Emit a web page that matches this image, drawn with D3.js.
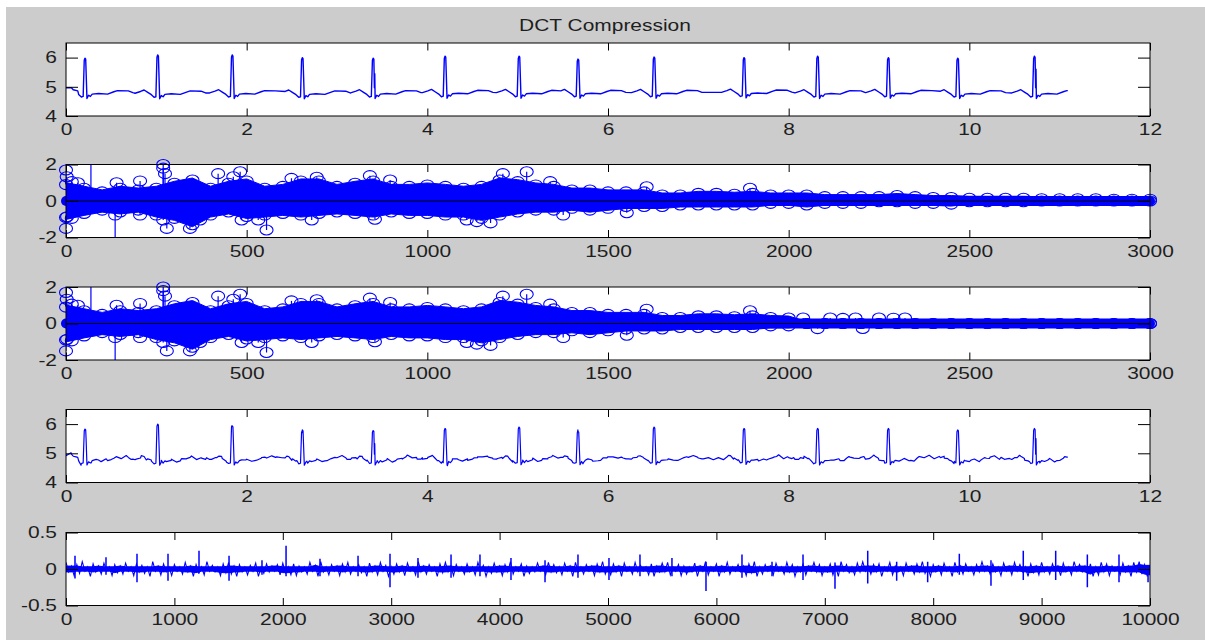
<!DOCTYPE html>
<html>
<head>
<meta charset="utf-8">
<script src="https://cdn.jsdelivr.net/npm/d3@7"></script>
<style>
  body { margin: 0; background: #ffffff; }
  svg { display: block; }
</style>
</head>
<body>
<svg id="fig" width="1205" height="640"></svg>
<script>
// ---------------- data ----------------
const titleText = "DCT Compression";

// tick labels
const timeTicks = [0, 2, 4, 6, 8, 10, 12];
const ecgTicks = [4, 5, 6];
const coefTicks = [0, 500, 1000, 1500, 2000, 2500, 3000];
const coefYTicks = [-2, 0, 2];
const sampleTicks = [0, 1000, 2000, 3000, 4000, 5000, 6000, 7000, 8000, 9000, 10000];
const errYTicks = [-0.5, 0, 0.5];

// ECG: R-peak times (s), R heights for original and reconstructed, local baseline
const beatTimes = [0.21, 1.015, 1.84, 2.616, 3.40, 4.196, 5.015, 5.668, 6.51, 7.506, 8.32, 9.103, 9.871, 10.72];
const origPeaks = [5.98, 6.09, 6.09, 6.0, 5.98, 6.05, 6.05, 5.95, 6.02, 6.0, 6.05, 6.0, 5.98, 6.05];
const recPeaks  = [5.83, 6.0, 5.94, 5.8, 5.78, 5.85, 5.9, 5.75, 5.9, 5.85, 5.85, 5.85, 5.8, 5.85];
const origNotch = [0, 0, 0, 0, 5.45, 0, 0, 0, 0, 0, 0, 0, 0, 5.6];
const recNotch  = [0, 0, 0, 0, 5.33, 0, 0, 0, 0, 0, 0, 0, 0, 5.5];
const beatBase  = [4.77, 4.76, 4.77, 4.76, 4.77, 4.78, 4.78, 4.78, 4.78, 4.79, 4.77, 4.78, 4.77, 4.77];
// one heartbeat: offset from R (s), level above baseline, share of the R amplitude
const waveDt   = [-0.25, -0.19, -0.15, -0.11, -0.07, -0.04, -0.02, -0.008, 0, 0.008, 0.022, 0.04, 0.06, 0.08, 0.15, 0.25, 0.32, 0.36, 0.48, 0.53];
const waveDv   = [0.02, 0.08, 0.13, 0.05, -0.03, -0.12, -0.1, 0, 0, 0, -0.17, -0.06, -0.1, -0.02, 0, -0.02, 0.06, 0.1, 0.09, 0.03];
const waveFrac = [0, 0, 0, 0, 0, 0, 0, 0.94, 1, 0.97, 0, 0, 0, 0, 0, 0, 0, 0, 0, 0];
const leadT = [0, 0.06, 0.08, 0.13];
const leadV = [4.97, 4.97, 4.9, 4.86];
const ecgEnd = 11.09, ecgEndV = 4.87;
const sampleRate = 900;

// DCT coefficients: envelope every 50 coefficients (0..3000)
const dctStep = 50;
const dctHi = [0.9, 0.7, 0.5, 0.7, 0.6, 0.7, 0.97, 1.15, 0.7, 0.97,
  1.1, 0.7, 0.8, 1.1, 1.1, 0.8, 0.97, 1.1, 0.8, 0.8,
  0.88, 0.8, 0.7, 0.8, 1.15, 1.06, 0.88, 0.8, 0.6, 0.6,
  0.5, 0.5, 0.5, 0.33, 0.33, 0.42, 0.42, 0.37, 0.42, 0.33,
  0.33, 0.33, 0.24, 0.24, 0.24, 0.24, 0.3, 0.24, 0.19, 0.19,
  0.15, 0.15, 0.15, 0.15, 0.12, 0.12, 0.12, 0.12, 0.1, 0.1, 0.1];
const dctLo = [-0.9, -0.68, -0.5, -0.6, -0.5, -0.77, -0.95, -1.3, -0.77, -0.6,
  -0.85, -0.77, -0.68, -0.77, -0.68, -0.6, -0.68, -0.77, -0.6, -0.68,
  -0.68, -0.77, -0.77, -0.95, -0.77, -0.6, -0.5, -0.5, -0.4, -0.5,
  -0.4, -0.3, -0.3, -0.3, -0.22, -0.22, -0.22, -0.22, -0.22, -0.13,
  -0.13, -0.22, -0.13, -0.13, -0.13, -0.04, -0.04, -0.13, -0.13, -0.17,
  -0.04, -0.04, -0.04, -0.04, 0, 0, 0, 0, 0, 0, 0];
// thresholded coefficients
const keptHi = [0.9, 0.7, 0.5, 0.7, 0.6, 0.7, 0.97, 1.15, 0.7, 0.97,
  1.1, 0.7, 0.8, 1.1, 1.1, 0.8, 0.97, 1.1, 0.8, 0.8,
  0.88, 0.8, 0.7, 0.8, 1.15, 1.06, 0.88, 0.8, 0.6, 0.6,
  0.5, 0.5, 0.5, 0.33, 0.33, 0.42, 0.42, 0.37, 0.42, 0.33,
  0.3, 0, 0, 0, 0, 0, 0, 0, 0, 0,
  0, 0, 0, 0, 0, 0, 0, 0, 0, 0, 0];
const keptLo = [-0.9, -0.68, -0.5, -0.6, -0.5, -0.77, -0.95, -1.3, -0.77, -0.6,
  -0.85, -0.77, -0.68, -0.77, -0.68, -0.6, -0.68, -0.77, -0.6, -0.68,
  -0.68, -0.77, -0.77, -0.95, -0.77, -0.6, -0.5, -0.5, -0.4, -0.5,
  -0.4, -0.3, -0.3, -0.3, -0.22, -0.22, -0.22, -0.22, -0.22, -0.13,
  -0.13, 0, 0, 0, 0, 0, 0, 0, 0, 0,
  0, 0, 0, 0, 0, 0, 0, 0, 0, 0, 0];
// individual large coefficients [index, value]
const dctPeaks = [[0, 1.7], [2, 1.33], [16, 1.06], [33, 1.0], [69, 2.6], [140, 1.0], [205, 1.1],
  [269, 2.0], [269, 1.8], [274, 1.5], [421, 1.5], [463, 1.33], [482, 1.6], [624, 1.24],
  [694, 1.3], [841, 1.39], [897, 1.15], [1209, 1.5], [1275, 1.6], [1340, 1.06],
  [1607, 0.78], [1893, 0.7],
  [0, -1.5], [3, -0.86], [16, -0.95], [136, -2.4], [136, -0.77], [205, -0.77], [269, -1.04],
  [279, -1.5], [343, -1.5], [371, -1.04], [486, -1.04], [532, -1.04], [555, -1.59],
  [680, -1.04], [855, -1.0], [1109, -1.04], [1137, -1.13], [1175, -1.2], [1376, -0.77], [1552, -0.64]];
const keptSparse = [[2040, 0.3], [2080, -0.28], [2115, 0.3], [2150, 0.28], [2185, 0.3],
  [2205, -0.27], [2250, 0.3], [2290, 0.29], [2322, 0.3]];

// reconstruction error: max and min in each block of 50 samples (0..10000)
const errStep = 50;
const errHi = [0.09,0.04,0.06,0.1,0.03,0.07,0.04,0.08,0.03,0.06,
  0.04,0.08,0.03,0.07,0.05,0.03,0.1,0.04,0.07,0.03,
  0.06,0.03,0.09,0.04,0.06,0.03,0.1,0.05,0.03,0.07,
  0.09,0.04,0.06,0.03,0.05,0.08,0.03,0.07,0.04,0.06,
  0.08,0.03,0.07,0.04,0.03,0.09,0.05,0.1,0.03,0.06,
  0.04,0.07,0.09,0.03,0.06,0.03,0.08,0.04,0.09,0.05,
  0.03,0.07,0.04,0.08,0.03,0.1,0.04,0.06,0.03,0.07,
  0.09,0.04,0.06,0.03,0.07,0.03,0.09,0.05,0.03,0.08,
  0.04,0.06,0.1,0.03,0.07,0.04,0.03,0.08,0.04,0.09,
  0.06,0.03,0.08,0.04,0.09,0.03,0.06,0.04,0.07,0.1,
  0.03,0.07,0.04,0.08,0.03,0.09,0.05,0.03,0.07,0.04,
  0.08,0.09,0.03,0.06,0.04,0.03,0.08,0.04,0.1,0.03,
  0.07,0.04,0.09,0.03,0.06,0.04,0.07,0.1,0.03,0.06,
  0.04,0.08,0.03,0.09,0.06,0.03,0.07,0.04,0.09,0.06,
  0.03,0.07,0.04,0.1,0.06,0.03,0.08,0.1,0.04,0.06,
  0.07,0.03,0.09,0.04,0.03,0.08,0.04,0.07,0.1,0.03,
  0.06,0.04,0.08,0.03,0.09,0.04,0.07,0.03,0.06,0.1,
  0.04,0.07,0.03,0.08,0.04,0.09,0.06,0.03,0.07,0.04,
  0.09,0.03,0.07,0.04,0.08,0.03,0.1,0.06,0.04,0.07,
  0.03,0.09,0.07,0.04,0.03,0.08,0.04,0.09,0.1,0.06,
  0.05];
const errLo = [-0.04,-0.09,-0.06,-0.03,-0.1,-0.04,-0.07,-0.03,-0.09,-0.05,
  -0.07,-0.03,-0.09,-0.04,-0.06,-0.1,-0.03,-0.08,-0.04,-0.09,
  -0.03,-0.07,-0.04,-0.1,-0.05,-0.08,-0.03,-0.04,-0.09,-0.05,
  -0.07,-0.1,-0.04,-0.08,-0.03,-0.1,-0.06,-0.04,-0.03,-0.08,
  -0.05,-0.08,-0.09,-0.04,-0.07,-0.03,-0.1,-0.04,-0.08,-0.03,
  -0.09,-0.04,-0.07,-0.03,-0.05,-0.1,-0.04,-0.08,-0.03,-0.1,
  -0.07,-0.04,-0.09,-0.03,-0.08,-0.04,-0.07,-0.03,-0.1,-0.05,
  -0.04,-0.09,-0.03,-0.07,-0.04,-0.08,-0.03,-0.1,-0.06,-0.04,
  -0.09,-0.04,-0.07,-0.03,-0.1,-0.06,-0.04,-0.03,-0.08,-0.04,
  -0.05,-0.08,-0.03,-0.1,-0.04,-0.07,-0.03,-0.09,-0.04,-0.07,
  -0.08,-0.04,-0.1,-0.03,-0.07,-0.04,-0.03,-0.08,-0.1,-0.04,
  -0.04,-0.08,-0.03,-0.09,-0.07,-0.04,-0.1,-0.03,-0.08,-0.03,
  -0.1,-0.04,-0.07,-0.03,-0.04,-0.09,-0.05,-0.1,-0.07,-0.03,
  -0.08,-0.03,-0.07,-0.04,-0.1,-0.04,-0.08,-0.03,-0.04,-0.09,
  -0.04,-0.08,-0.1,-0.03,-0.05,-0.08,-0.04,-0.03,-0.07,-0.04,
  -0.1,-0.03,-0.08,-0.04,-0.09,-0.03,-0.07,-0.04,-0.06,-0.1,
  -0.04,-0.08,-0.03,-0.1,-0.04,-0.07,-0.03,-0.08,-0.04,-0.03,
  -0.07,-0.04,-0.09,-0.03,-0.08,-0.03,-0.04,-0.1,-0.05,-0.08,
  -0.04,-0.07,-0.03,-0.09,-0.04,-0.08,-0.03,-0.04,-0.07,-0.1,
  -0.08,-0.04,-0.09,-0.03,-0.08,-0.04,-0.1,-0.04,-0.07,-0.1,
  -0.08];
// error spikes: sample index, max, min
const spikeIdx = [83, 369, 655, 941, 1227, 1504, 1808, 2030, 2343, 2694, 2989, 3247, 3552, 3819, 4105, 4419, 4723,
  5009, 5295, 5590, 5904, 6236, 6513, 6799, 7094, 7396, 7663, 7949, 8241, 8533, 8831, 9130, 9422, 9714, 9982];
const spikeHi = [0.18, 0.16, 0.21, 0.21, 0.25, 0.18, 0.12, 0.32, 0.14, 0.18, 0.21, 0.15, 0.2, 0.2, 0.15, 0.12, 0.2,
  0.15, 0.2, 0.15, 0.1, 0.2, 0.1, 0.2, 0.09, 0.25, 0.1, 0.1, 0.21, 0.12, 0.25, 0.25, 0.2, 0.2, 0.05];
const spikeLo = [-0.13, -0.08, -0.18, -0.16, -0.06, -0.16, -0.08, -0.1, -0.1, -0.1, -0.25, -0.12, -0.12, -0.1, -0.15, -0.18, -0.12,
  -0.15, -0.1, -0.1, -0.3, -0.12, -0.1, -0.15, -0.27, -0.2, -0.16, -0.18, -0.08, -0.23, -0.15, -0.15, -0.25, -0.18, -0.18];

// ---------------- drawing ----------------
const BLUE = "#0000ff";
const L = 66, R = 1150, H = 73;
const tops = [43, 164.5, 287, 409.5, 532.5];
const MARK_RX = 6.5, MARK_RY = 5;
const svg = d3.select("#fig");

svg.append("rect").attr("x", 6).attr("y", 7).attr("width", 1199).attr("height", 633).attr("fill", "#cccccc");

function wideText(sel, origin) {
  sel.style("font-family", "'Liberation Sans', Arial, sans-serif")
    .style("font-size", "16.5px")
    .attr("fill", "#1e1e1e")
    .style("transform-box", "fill-box")
    .style("transform-origin", origin)
    .style("transform", "scaleX(1.27)");
}

svg.append("text").attr("x", 605).attr("y", 31).attr("text-anchor", "middle")
  .text(titleText).call(wideText, "50% 50%");

function makePanel(k, xDomain, yDomain) {
  const top = tops[k];
  const x = d3.scaleLinear().domain(xDomain).range([L, R]);
  const y = d3.scaleLinear().domain(yDomain).range([top + H, top]);
  const g = svg.append("g");
  g.append("rect").attr("x", L).attr("y", top).attr("width", R - L).attr("height", H).attr("fill", "#ffffff");
  svg.append("clipPath").attr("id", "clip" + k)
    .append("rect").attr("x", L).attr("y", top).attr("width", R - L).attr("height", H);
  const clipped = g.append("g").attr("clip-path", `url(#clip${k})`);
  const free = g.append("g");
  return { x, y, g, clipped, free, top };
}

const fmt = d => String(d);
function finishAxes(p, xTicks, yTicks) {
  const ax = p.g.append("g");
  const bottom = ax.append("g").attr("transform", `translate(0,${p.top + H})`)
    .call(d3.axisBottom(p.x).tickValues(xTicks).tickSizeInner(-7.5).tickSizeOuter(0).tickPadding(7.3).tickFormat(fmt));
  ax.append("g").attr("transform", `translate(0,${p.top})`)
    .call(d3.axisTop(p.x).tickValues(xTicks).tickSizeInner(-7.5).tickSizeOuter(0).tickFormat(""));
  const left = ax.append("g").attr("transform", `translate(${L},0)`)
    .call(d3.axisLeft(p.y).tickValues(yTicks).tickSizeInner(-12).tickSizeOuter(0).tickPadding(9).tickFormat(fmt));
  ax.append("g").attr("transform", `translate(${R},0)`)
    .call(d3.axisRight(p.y).tickValues(yTicks).tickSizeInner(-12).tickSizeOuter(0).tickFormat(""));
  ax.selectAll(".domain").remove();
  ax.selectAll(".tick line").attr("stroke", "#000").attr("stroke-width", 1);
  bottom.selectAll("text").call(wideText, "50% 50%");
  left.selectAll("text").call(wideText, "100% 50%");
  ax.append("rect").attr("x", L).attr("y", p.top).attr("width", R - L).attr("height", H)
    .attr("fill", "none").attr("stroke", "#000").attr("stroke-width", 1);
}

// ECG trace built from the beat description
function ecgTrace(peaks, notches) {
  const pts = leadT.map((t, i) => [t, leadV[i]]);
  const lastLead = leadT[leadT.length - 1];
  beatTimes.forEach((tb, b) => {
    const prev = b > 0 ? tb - beatTimes[b - 1] : 0.8;
    const next = b < beatTimes.length - 1 ? beatTimes[b + 1] - tb : 0.8;
    waveDt.forEach((dt, j) => {
      if (dt < -0.32 * prev || dt > 0.68 * next) return;
      const t = tb + dt;
      if (t <= lastLead || t >= ecgEnd) return;
      pts.push([t, beatBase[b] + waveDv[j] + waveFrac[j] * (peaks[b] - beatBase[b])]);
    });
    if (notches[b]) pts.push([tb + 0.014, beatBase[b] + 0.2], [tb + 0.018, notches[b]]);
  });
  pts.push([ecgEnd, ecgEndV]);
  pts.sort((a, b) => a[0] - b[0]);
  return pts;
}

function valueAt(pts, t) {
  const i = d3.bisector(d => d[0]).left(pts, t);
  if (i <= 0) return pts[0][1];
  if (i >= pts.length) return pts[pts.length - 1][1];
  const a = pts[i - 1], b = pts[i];
  return a[1] + (b[1] - a[1]) * (t - a[0]) / (b[0] - a[0]);
}

// ---- panel 1: original ECG
const p1 = makePanel(0, [0, 12], [4, 6.5]);
const origPts = ecgTrace(origPeaks, origNotch);
p1.clipped.append("path").datum(origPts)
  .attr("d", d3.line().x(d => p1.x(d[0])).y(d => p1.y(d[1])))
  .attr("fill", "none").attr("stroke", BLUE).attr("stroke-width", 1.4).attr("stroke-linejoin", "round");
finishAxes(p1, timeTicks, ecgTicks);

// ---- DCT stem panels
function dctPanel(k, hi, lo, peaks) {
  const p = makePanel(k, [0, 3000], [-2, 2]);
  const band = hi.map((h, i) => ({ c: i * dctStep, hi: h, lo: lo[i] }));
  // overlapping markers and stems merge into a solid band
  p.clipped.append("path").datum(band)
    .attr("d", d3.area().x(d => p.x(d.c)).y0(d => p.y(d.lo) + 2).y1(d => p.y(d.hi) - 2))
    .attr("fill", BLUE).attr("stroke", BLUE).attr("stroke-width", 1);
  // markers resting on zero
  p.free.append("path").datum([0, 3000])
    .attr("d", d3.line().x(d => p.x(d)).y(() => p.y(0)))
    .attr("stroke", BLUE).attr("stroke-width", 2 * MARK_RY).attr("stroke-linecap", "round");
  // stems of the listed coefficients
  p.clipped.selectAll("line.stem").data(peaks).join("line").attr("class", "stem")
    .attr("x1", d => p.x(d[0])).attr("x2", d => p.x(d[0]))
    .attr("y1", p.y(0)).attr("y2", d => p.y(d[1]))
    .attr("stroke", BLUE).attr("stroke-width", 1.2);
  const marks = band.flatMap(d => [[d.c, d.hi], [d.c, d.lo]]).concat(peaks)
    .filter(d => d[1] >= -2 && d[1] <= 2);
  p.free.selectAll("ellipse").data(marks).join("ellipse")
    .attr("cx", d => p.x(d[0])).attr("cy", d => p.y(d[1]))
    .attr("rx", MARK_RX).attr("ry", MARK_RY)
    .attr("fill", "none").attr("stroke", BLUE).attr("stroke-width", 1.1);
  // stem baseline
  p.g.append("line").attr("x1", p.x(0)).attr("x2", p.x(3000))
    .attr("y1", p.y(0)).attr("y2", p.y(0)).attr("stroke", "#000").attr("stroke-width", 1);
  finishAxes(p, coefTicks, coefYTicks);
  return p;
}
dctPanel(1, dctHi, dctLo, dctPeaks);
dctPanel(2, keptHi, keptLo, dctPeaks.concat(keptSparse));

// ---- panel 4: reconstructed ECG (beats minus the net error of each block)
const p4 = makePanel(3, [0, 12], [4, 6.5]);
const recClean = ecgTrace(recPeaks, recNotch);
const recPts = recClean.slice();
errHi.forEach((h, i) => {
  const t = i * errStep / sampleRate;
  if (t >= ecgEnd) return;
  recPts.push([t, valueAt(recClean, t) - (h + errLo[i])]);
});
recPts.sort((a, b) => a[0] - b[0]);
p4.clipped.append("path").datum(recPts)
  .attr("d", d3.line().x(d => p4.x(d[0])).y(d => p4.y(d[1])))
  .attr("fill", "none").attr("stroke", BLUE).attr("stroke-width", 1.2).attr("stroke-linejoin", "round");
finishAxes(p4, timeTicks, ecgTicks);

// ---- panel 5: reconstruction error
const p5 = makePanel(4, [0, 10000], [-0.5, 0.5]);
// range that neighbouring blocks all cover: the densely filled core
const errCore = errHi.map((h, i) => {
  const nb = [i - 1, i, i + 1].filter(j => j >= 0 && j < errHi.length);
  return { s: i * errStep, hi: d3.min(nb, j => errHi[j]), lo: d3.max(nb, j => errLo[j]) };
});
p5.clipped.append("path").datum(errCore)
  .attr("d", d3.area().x(d => p5.x(d.s)).y0(d => p5.y(d.lo)).y1(d => p5.y(d.hi)))
  .attr("fill", BLUE).attr("stroke", BLUE).attr("stroke-width", 1);
// trace through each block's maximum then minimum
const errTrace = errHi.flatMap((h, i) => {
  const s = i * errStep;
  return i < errHi.length - 1 ? [[s, h], [s + errStep / 2, errLo[i]]] : [[s, h]];
});
p5.clipped.append("path").datum(errTrace)
  .attr("d", d3.line().x(d => p5.x(d[0])).y(d => p5.y(d[1])))
  .attr("fill", "none").attr("stroke", BLUE).attr("stroke-width", 1.1).attr("stroke-linejoin", "miter");
p5.clipped.selectAll("line.spike").data(spikeIdx).join("line").attr("class", "spike")
  .attr("x1", d => p5.x(d)).attr("x2", d => p5.x(d))
  .attr("y1", (d, i) => p5.y(spikeLo[i])).attr("y2", (d, i) => p5.y(spikeHi[i]))
  .attr("stroke", BLUE).attr("stroke-width", 1.5);
finishAxes(p5, sampleTicks, errYTicks);
</script>
</body>
</html>
